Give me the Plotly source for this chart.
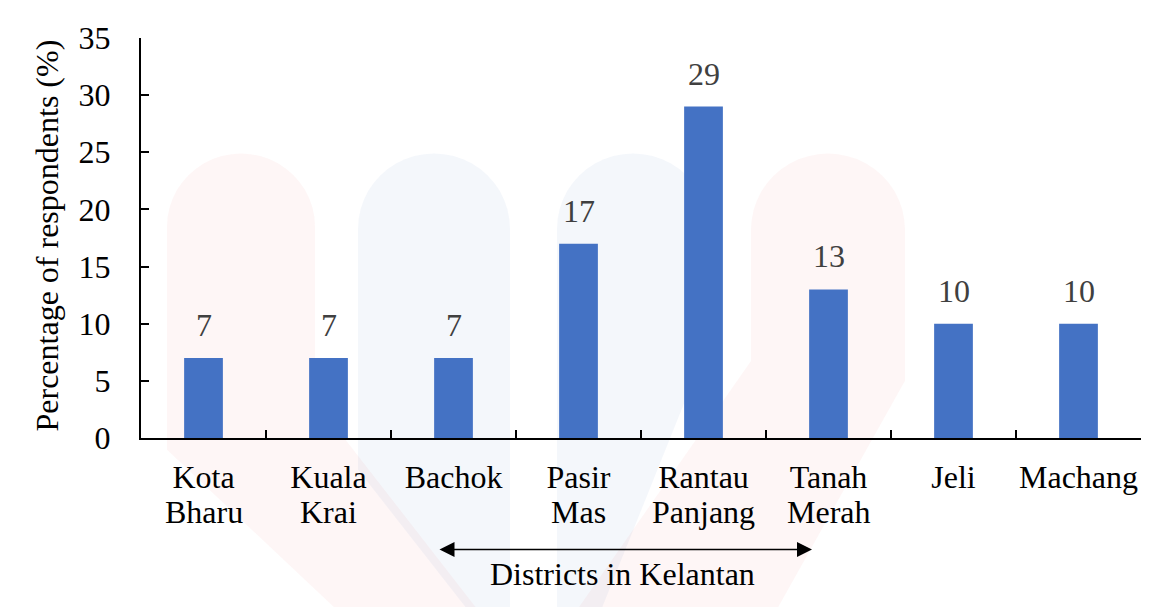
import math
import plotly.graph_objects as go

categories = ["Kota Bharu", "Kuala Krai", "Bachok", "Pasir Mas", "Rantau Panjang",
              "Tanah Merah", "Jeli", "Machang"]
label_line1 = ["Kota", "Kuala", "Bachok", "Pasir", "Rantau", "Tanah", "Jeli", "Machang"]
label_line2 = ["Bharu", "Krai", "", "Mas", "Panjang", "Merah", "", ""]
values = [7, 7, 7, 17, 29, 13, 10, 10]
y_ticks = [0, 5, 10, 15, 20, 25, 30, 35]

FONT = "Liberation Serif"
FS = 32
# page has an 8px body margin; reference pixel coords -> figure coords
W, H = 1160, 599
L, T = 133, 25
PW, PH = 1000, 405
R, B = W - L - PW, H - T - PH


def px(x):  # reference page x -> paper
    return (x - 141) / PW


def py(y):  # reference page y -> paper
    return (438 - y) / PH


xs = list(range(len(categories)))

fig = go.Figure()
fig.add_trace(go.Bar(
    x=xs, y=values, width=0.31,
    marker=dict(color="#4472C4", line=dict(width=0)),
    hoverinfo="skip",
))

# data labels
for xi, v in zip(xs, values):
    fig.add_annotation(x=xi, y=v, text=str(v), showarrow=False, yanchor="bottom",
                       yshift=13, font=dict(family=FONT, size=FS, color="#404040"))

# second line of the category labels
for xi, t in zip(xs, label_line2):
    if t:
        fig.add_annotation(x=xi, y=py(513), xref="x", yref="paper", text=t, showarrow=False,
                           xanchor="center", yanchor="middle",
                           font=dict(family=FONT, size=FS, color="black"))


# faint background watermark shapes (decorative)
def to_path(cmds):
    out = []
    for c in cmds:
        if c[0] in ("M", "L"):
            out.append(f"{c[0]} {px(c[1]):.4f},{py(c[2]):.4f}")
        else:
            out.append("Z")
    return " ".join(out)


def arc_pts(cx, cy, r, n=24):
    return [("L", cx + r * math.cos(math.pi - math.pi * i / n),
             cy - r * math.sin(math.pi - math.pi * i / n)) for i in range(n + 1)]


def wm(cmds, color):
    fig.add_shape(type="path", path=to_path(cmds), xref="paper", yref="paper", layer="below",
                  fillcolor=color, line=dict(width=0))


red = "rgba(235,90,90,0.055)"
blue = "rgba(70,120,180,0.06)"
wm([("M", 167, 440)] + arc_pts(241, 224, 74) +
   [("L", 315, 400), ("L", 480, 615), ("L", 340, 615), ("L", 167, 450), ("Z",)], red)
wm([("M", 358, 460)] + arc_pts(434, 226, 76) +
   [("L", 510, 615), ("L", 470, 615), ("L", 358, 470), ("Z",)], blue)
wm([("M", 557, 615)] + arc_pts(633, 226, 76) + [("L", 709, 340), ("L", 600, 615), ("Z",)], blue)
wm([("M", 751, 350)] + arc_pts(828, 227, 77) +
   [("L", 905, 380), ("L", 775, 615), ("L", 575, 615), ("L", 751, 360), ("Z",)], red)

# y-axis title
fig.add_annotation(x=px(47), y=py(233), xref="paper", yref="paper",
                   text="Percentage of respondents (%)", textangle=-90, showarrow=False,
                   xanchor="center", yanchor="middle",
                   font=dict(family=FONT, size=FS, color="black"))

# x-axis title with double-headed arrow
fig.add_annotation(x=(812 - 141) / 125 - 0.5, y=py(551), ax=(438 - 141) / 125 - 0.5, ay=0,
                   xref="x", yref="paper", axref="x", ayref="pixel", text="", showarrow=True,
                   arrowhead=2, startarrowhead=2, arrowside="end+start", arrowsize=2,
                   startarrowsize=2, arrowwidth=1.5, arrowcolor="black")
fig.add_annotation(x=px(622), y=py(576), xref="paper", yref="paper", text="Districts in Kelantan",
                   showarrow=False, xanchor="center", yanchor="middle",
                   font=dict(family=FONT, size=FS, color="black"))

fig.update_layout(
    width=W, height=H,
    margin=dict(l=L, r=R, t=T, b=B),
    paper_bgcolor="white", plot_bgcolor="rgba(0,0,0,0)",
    showlegend=False,
    font=dict(family=FONT, size=FS, color="black"),
    xaxis=dict(
        range=[-0.5, len(categories) - 0.5],
        tickmode="array", tickvals=xs, ticktext=label_line1,
        showline=True, linecolor="black", linewidth=2,
        ticks="", showgrid=False, zeroline=False,
        ticklabelstandoff=10,
        tickfont=dict(family=FONT, size=FS, color="black"),
        fixedrange=True,
    ),
    xaxis2=dict(
        overlaying="x", range=[-0.5, len(categories) - 0.5], tickmode="array",
        tickvals=[i + 0.5 for i in xs],
        ticks="inside", ticklen=8, tickwidth=2, tickcolor="black",
        showline=False, showgrid=False, zeroline=False, anchor="y",
        side="bottom", showticklabels=False,
    ),
    yaxis=dict(
        range=[0, 35], tickmode="array", tickvals=y_ticks,
        showline=True, linecolor="black", linewidth=2,
        ticks="inside", ticklen=8, tickwidth=2, tickcolor="black",
        showgrid=False, zeroline=False,
        ticklabelstandoff=22,
        tickfont=dict(family=FONT, size=FS, color="black"),
        fixedrange=True,
    ),
)
# invisible trace to activate xaxis2 (boundary tick marks)
fig.add_trace(go.Scatter(x=[0], y=[0], xaxis="x2", mode="markers", marker=dict(opacity=0),
                         hoverinfo="skip"))

fig.write_html("out.html")
